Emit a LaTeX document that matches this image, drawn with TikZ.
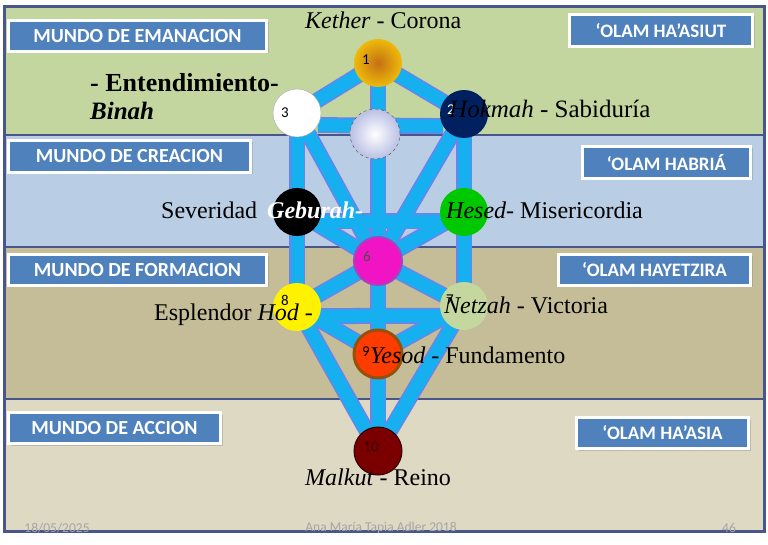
\documentclass[tikz,border=0pt]{standalone}
\usepackage{fontspec}
\setmainfont{Liberation Serif}
\newfontfamily\boxfont{Carlito}
\usepackage{tikz}
\usetikzlibrary{
	shadows,
	positioning
}
\definecolor{BandGreen}{RGB}{196,214,160}
\definecolor{BandBlue}{RGB}{185,205,229}
\definecolor{BandTan}{RGB}{196,189,151}
\definecolor{BandBeige}{RGB}{221,217,195}
\definecolor{FrameBlue}{RGB}{72,86,140}
\definecolor{BoxBlue}{RGB}{79,129,189}
\definecolor{SendaBlue}{RGB}{22,176,240}
\definecolor{SendaEdge}{RGB}{110,130,235}
\definecolor{KetherIn}{RGB}{196,112,20}
\definecolor{KetherOut}{RGB}{238,186,10}
\definecolor{DaatOut}{RGB}{186,192,228}
\definecolor{HokmahBlue}{RGB}{0,32,96}
\definecolor{HesedGreen}{RGB}{0,200,0}
\definecolor{TiferetPink}{RGB}{240,20,196}
\definecolor{TiferetEdge}{RGB}{160,70,190}
\definecolor{NetzahGreen}{RGB}{196,215,158}
\definecolor{YesodRed}{RGB}{255,60,0}
\definecolor{YesodEdge}{RGB}{150,80,10}
\definecolor{MalkutRed}{RGB}{122,0,0}
\definecolor{FootGray}{RGB}{165,165,165}

\pgfdeclarelayer{background}
\pgfdeclarelayer{sendas}
\pgfsetlayers{background,sendas,main}

\tikzset{
	sefira/.style={circle, minimum size=48pt, inner sep=0pt},
	edgepath/.style={line width=16pt, draw=SendaEdge},
	senda/.style={line width=13pt, draw=SendaBlue},
	world/.style={draw=white, line width=3pt, fill=BoxBlue, text=white, inner sep=0pt,
		font=\boxfont\bfseries\fontsize{20}{22}\selectfont,
		drop shadow={shadow xshift=2pt, shadow yshift=-2pt, opacity=0.35}},
	olam/.style={world, font=\boxfont\bfseries\fontsize{19}{21}\selectfont},
	num/.style={font=\boxfont\fontsize{15}{17}\selectfont, inner sep=0pt},
	nombre/.style={font=\fontsize{24}{28}\selectfont, inner sep=0pt, anchor=base west},
	pie/.style={font=\boxfont\fontsize{13.5}{15}\selectfont, text=FootGray, inner sep=0pt}
}

\begin{document}
\begin{tikzpicture}[x=1pt, y=-1pt]
	\useasboundingbox (0,0) rectangle (768,545);

	% los cuatro mundos
	\begin{pgfonlayer}{background}
		\fill[BandGreen] (4,7) rectangle (764,135);
		\fill[BandBlue] (4,135) rectangle (764,247);
		\fill[BandTan] (4,247) rectangle (764,399);
		\fill[BandBeige] (4,399) rectangle (764,531);
		\draw[FrameBlue, line width=2.5pt] (4,135) -- (764,135) (4,247) -- (764,247) (4,399) -- (764,399);
		\draw[FrameBlue, line width=3pt] (4,7) rectangle (764,531);
	\end{pgfonlayer}

	% sefirot
	\node[sefira, shading=radial, inner color=KetherIn, outer color=KetherOut] (kether) at (378,63) {};
	\node[sefira, fill=white, draw=gray!70] (binah) at (297,113) {};
	\node[sefira, fill=HokmahBlue] (hokmah) at (464,114) {};
	\node[sefira, minimum size=50pt, shading=radial, inner color=white, outer color=DaatOut, draw=black!70, dashed] (daat) at (375,134) {};
	\node[sefira, fill=black] (geburah) at (297,212) {};
	\node[sefira, fill=HesedGreen] (hesed) at (464,212) {};
	\node[sefira, fill=TiferetPink, draw=TiferetEdge, line width=2pt] (tiferet) at (378,261) {};
	\node[sefira, fill=yellow] (hod) at (297,307) {};
	\node[sefira, fill=NetzahGreen] (netzah) at (464,306) {};
	\node[sefira, fill=YesodRed, draw=YesodEdge, line width=3pt] (yesod) at (378,354) {};
	\node[sefira, fill=MalkutRed, draw=black!60!MalkutRed, line width=1pt] (malkut) at (378,451) {};

	% numeros
	\node[num] at ([xshift=-12pt, yshift=3pt]kether) {1};
	\node[num] at ([xshift=-12pt]binah) {3};
	\node[num, text=white] at ([xshift=-13pt, yshift=4pt]hokmah) {2};
	\node[num, text=black!70] at ([xshift=-11pt, yshift=5pt]tiferet) {6};
	\node[num] at ([xshift=-12pt, yshift=7pt]hod) {8};
	\node[num] at ([xshift=-14pt, yshift=6pt]netzah) {7};
	\node[num] at ([xshift=-12pt, yshift=2pt]yesod) {9};
	\node[num, text=black!55!MalkutRed] at ([xshift=-7pt, yshift=4pt]malkut) {10};

	% sendas
	\def\sendas{kether/hokmah, kether/binah, kether/tiferet, hokmah/hesed, hokmah/tiferet,
		binah/geburah, binah/tiferet, hesed/tiferet, hesed/netzah, geburah/tiferet,
		geburah/hod, tiferet/netzah, tiferet/hod, tiferet/yesod, netzah/yesod,
		hod/yesod, netzah/malkut, hod/malkut, yesod/malkut}
	\begin{pgfonlayer}{sendas}
		\foreach \a/\b in \sendas
			\draw[edgepath] (\a.center) -- (\b.center);
		\draw[edgepath] (binah.-30) -- (hokmah.210);
		\draw[edgepath] (geburah.-22) -- (hesed.202);
		\draw[edgepath] (hod.-22) -- (netzah.204);
		\foreach \a/\b in \sendas
			\draw[senda] (\a.center) -- (\b.center);
		\draw[senda] (binah.-30) -- (hokmah.210);
		\draw[senda] (geburah.-22) -- (hesed.202);
		\draw[senda] (hod.-22) -- (netzah.204);
	\end{pgfonlayer}

	% nombres
	\node[nombre] (ketherlbl) at (305,29) {\textit{Kether} - Corona};
	\node[nombre, font=\bfseries\fontsize{26}{30}\selectfont] (entendimiento) at (90,92) {- Entendimiento-};
	\node[nombre, font=\bfseries\itshape\fontsize{25}{29}\selectfont] (binahlbl) at (90,120) {Binah};
	\node[nombre, font=\fontsize{25}{29}\selectfont] (hokmahlbl) at (449,118) {\textit{Hokmah} - Sabiduría};
	\node[nombre] (severidad) at (161,219) {Severidad};
	\node[nombre, text=white, font=\bfseries\itshape\fontsize{24}{28}\selectfont] (geburahlbl) at (267,219) {Geburah-};
	\node[nombre] (hesedlbl) at (446,219) {\textit{Hesed}- Misericordia};
	\node[nombre] (hodlbl) at (154,320) {Esplendor \textit{Hod} -};
	\node[nombre] (netzahlbl) at (444,313) {\textit{Netzah} - Victoria};
	\node[nombre] (yesodlbl) at (370,363) {\textit{Yesod} - Fundamento};
	\node[nombre] (malkutlbl) at (305,485) {\textit{Malkut} - Reino};

	% mundos
	\node[world, minimum width=258pt, minimum height=31pt] (emanacion) at (137.5,36) {MUNDO DE EMANACION};
	\node[world, minimum width=242pt, minimum height=32pt] (creacion) at (129.5,156.5) {MUNDO DE CREACION};
	\node[world, minimum width=258pt, minimum height=31pt] (formacion) at (137.5,270) {MUNDO DE FORMACION};
	\node[world, minimum width=212pt, minimum height=31pt] (accion) at (114.5,428) {MUNDO DE ACCION};
	\node[olam, minimum width=183pt, minimum height=32pt] (asiut) at (661,30.5) {‘OLAM HA’ASIUT};
	\node[olam, minimum width=168pt, minimum height=32pt] (habria) at (666.5,162.5) {‘OLAM HABRIÁ};
	\node[olam, minimum width=192pt, minimum height=31pt] (hayetzira) at (654.5,270) {‘OLAM HAYETZIRA};
	\node[olam, minimum width=172pt, minimum height=31pt] (haasia) at (662.5,433) {‘OLAM HA’ASIA};

	% pie
	\node[pie] (fecha) at (57,528) {18/05/2025};
	\node[pie] (autora) at (381,528) {Ana María Tapia Adler 2018};
	\node[pie] (pagina) at (729,528) {46};
\end{tikzpicture}
\end{document}
